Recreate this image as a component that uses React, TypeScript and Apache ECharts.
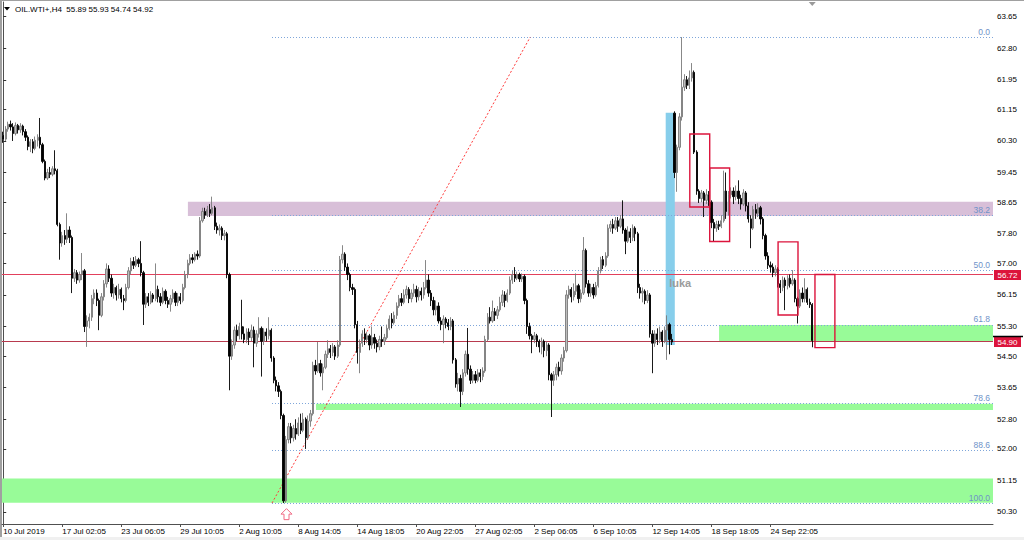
import React, { useEffect, useRef } from "react";
import * as echarts from "echarts";

type Bar = [number, number, number, number]; // open, close, low, high

const symbolName = "OIL.WTI+,H4";

const barsJul10: Bar[] = [
  [60.45,60.35,60.25,60.55],[60.35,60.62,60.30,60.70],[60.62,60.75,60.55,60.82],[60.75,60.68,60.58,60.85],
  [60.68,60.50,60.30,60.78],[60.50,60.72,60.45,60.80],[60.72,60.60,60.50,60.76],[60.60,60.70,60.52,60.78],
  [60.70,60.55,60.45,60.74],[60.55,60.40,60.30,60.62],[60.40,60.15,60.05,60.45],[60.15,60.28,60.00,60.35],
  [60.28,60.10,59.97,60.35],[60.10,60.32,60.05,60.42],[60.32,60.40,60.15,60.48],[60.40,60.20,60.10,60.92],
  [60.20,59.75,59.70,60.25],[59.75,59.30,59.24,59.80],[59.30,59.45,59.25,59.55],[59.45,59.40,59.30,59.60],
  [59.40,59.55,59.35,59.62],[59.55,59.50,59.40,60.05],[59.50,58.05,58.00,59.55],[58.05,57.55,57.10,58.10],
  [57.55,57.75,57.45,57.85],[57.75,57.65,57.50,57.90],[57.65,57.90,57.55,58.35],[57.90,57.70,57.55,58.00],
  [57.70,56.60,56.20,57.75],[56.60,56.75,56.50,56.85],[56.75,56.55,56.45,56.82],[56.55,56.70,56.48,56.78],
  [56.70,56.80,56.55,57.28],[56.80,55.30,55.15,56.85],[55.30,55.45,54.75,55.60],[55.45,55.55,55.25,55.65],
  [55.55,56.05,55.45,56.15],[56.05,56.20,55.90,56.30],[56.20,56.00,55.85,56.30],[56.00,55.60,55.20,56.05],
  [55.60,56.10,55.55,56.20],[56.10,56.45,56.00,56.55],[56.45,56.85,56.35,57.00],[56.85,56.60,56.50,56.95],
  [56.60,56.20,56.10,56.70],[56.20,56.35,56.05,56.45],[56.35,56.15,56.00,56.40],[56.15,56.30,56.05,56.45],
];

const barsJul23: Bar[] = [
  [56.30,56.05,55.95,56.35],[56.05,56.00,55.74,56.15],[56.00,56.35,55.95,56.45],[56.35,56.80,56.30,56.90],
  [56.80,57.05,56.70,57.15],[57.05,56.95,56.85,57.17],[56.95,57.10,56.90,57.20],[57.10,57.00,56.90,57.15],
  [57.00,56.75,56.65,57.60],[56.75,55.90,55.34,56.80],[55.90,56.10,55.80,56.20],[56.10,55.95,55.85,56.20],
  [55.95,56.15,55.90,56.25],[56.15,56.05,55.95,56.20],[56.05,56.30,55.98,57.00],[56.30,56.10,55.95,56.40],
  [56.10,55.95,55.85,56.20],[55.95,56.25,55.90,56.35],[56.25,56.00,55.90,56.30],[56.00,55.90,55.80,56.10],
  [55.90,56.05,55.70,56.15],[56.05,56.20,55.95,56.30],[56.20,55.95,55.85,56.25],[55.95,56.10,55.85,56.20],
  [56.10,56.00,55.90,56.20],[56.00,56.35,55.95,56.45],[56.35,56.70,56.30,56.80],[56.70,57.00,56.60,57.10],
  [57.00,57.15,56.95,57.25],[57.15,57.10,57.00,57.25],[57.10,57.25,57.05,57.30],[57.25,57.20,57.10,57.35],
  [57.20,58.15,57.15,58.25],[58.15,58.40,58.10,58.50],[58.40,58.30,58.20,58.50],[58.30,58.45,58.25,58.55],
  [58.45,58.35,58.25,58.60],[58.35,58.50,58.30,58.80],[58.50,58.00,57.90,58.55],[58.00,57.90,57.80,58.10],
  [57.90,57.95,57.75,58.05],[57.95,57.75,57.63,58.00],[57.75,57.80,57.62,57.90],[57.80,56.70,56.60,57.85],
  [56.70,54.50,53.58,56.75],[54.50,54.80,54.40,54.95],[54.80,55.20,54.70,55.30],[55.20,55.05,54.90,55.35],
];

const barsAug2: Bar[] = [
  [55.05,55.30,54.95,55.40],[55.30,55.10,54.95,56.02],[55.10,54.95,54.85,55.30],[54.95,55.15,54.85,55.25],
  [55.15,55.00,54.80,55.25],[55.00,55.20,54.90,55.35],[55.20,54.85,54.20,55.30],[54.85,55.10,54.75,55.20],
  [55.10,55.25,55.00,55.55],[55.25,54.90,53.95,55.30],[54.90,55.15,54.80,55.25],[55.15,55.05,54.90,55.25],
  [55.05,55.20,54.95,55.55],[55.20,54.45,54.35,55.25],[54.45,53.85,53.77,54.50],[53.85,53.70,53.55,53.95],
  [53.70,53.55,53.40,53.80],[53.55,52.90,52.80,53.60],[52.90,50.60,50.54,52.95],[50.60,52.25,50.55,52.35],
  [52.25,52.60,52.15,52.70],[52.60,52.30,52.15,52.70],[52.30,52.55,52.20,52.65],[52.55,52.40,52.25,52.80],
  [52.40,52.70,52.35,52.85],[52.70,52.50,52.40,52.95],[52.50,52.80,52.45,52.97],[52.80,52.30,52.00,52.85],
  [52.30,52.75,52.25,52.90],[52.75,52.95,52.60,53.05],[52.95,54.25,52.90,54.35],[54.25,54.10,54.00,54.40],
  [54.10,54.30,54.05,54.88],[54.30,54.05,53.95,54.40],[54.05,54.20,53.58,54.30],[54.20,54.55,54.15,54.65],
  [54.55,54.70,54.45,54.93],[54.70,54.60,54.45,54.80],[54.60,54.75,54.50,54.85],[54.75,54.50,54.40,54.80],
  [54.50,54.80,54.45,54.93],[54.80,57.10,54.75,57.20],[57.10,57.25,57.00,57.49],[57.25,56.90,56.80,57.30],
  [56.90,56.70,56.55,57.00],[56.70,56.35,56.25,56.75],[56.35,56.30,56.15,56.45],[56.30,55.35,55.25,56.35],
];

const barsAug14: Bar[] = [
  [55.35,54.60,54.30,55.45],[54.60,54.85,54.04,54.95],[54.85,55.10,54.75,55.20],[55.10,54.95,54.80,55.25],
  [54.95,55.05,54.85,55.15],[55.05,54.80,54.66,55.10],[54.80,55.00,54.70,55.30],[55.00,54.85,54.70,55.10],
  [54.85,54.75,54.60,54.95],[54.75,54.95,54.66,55.05],[54.95,54.90,54.75,55.30],[54.90,55.00,54.80,55.10],
  [55.00,55.25,54.95,55.35],[55.25,55.50,55.20,55.60],[55.50,55.40,55.25,55.66],[55.40,55.60,55.35,55.70],
  [55.60,55.85,55.50,55.95],[55.85,56.05,55.80,56.15],[56.05,55.95,55.85,56.20],[55.95,56.15,55.90,56.30],
  [56.15,56.30,56.05,56.40],[56.30,56.05,55.93,56.36],[56.05,56.20,55.95,56.30],[56.20,56.30,56.10,56.45],
  [56.30,56.10,55.95,56.40],[56.10,56.25,56.00,56.36],[56.25,56.15,56.00,56.35],[56.15,56.35,56.05,56.50],
  [56.35,56.55,56.30,57.09],[56.55,56.20,56.10,56.70],[56.20,56.00,55.85,56.28],[56.00,55.75,55.60,56.10],
  [55.75,55.85,55.60,56.00],[55.85,55.45,55.38,55.95],[55.45,55.35,55.20,55.55],[55.35,55.50,54.85,55.60],
  [55.50,55.40,55.25,55.55],[55.40,55.30,55.20,55.50],[55.30,55.45,55.20,55.55],[55.45,54.40,54.30,55.50],
  [54.40,53.75,53.65,54.45],[53.75,53.90,53.55,54.05],[53.90,53.55,53.13,54.00],[53.55,54.05,53.45,54.15],
  [54.05,54.55,53.95,54.65],[54.55,54.15,54.00,55.26],[54.15,53.85,53.75,54.25],[53.85,54.00,53.77,54.10],
];

const barsAug27: Bar[] = [
  [54.00,53.85,53.77,54.10],[53.85,54.05,53.80,54.15],[54.05,53.95,53.80,54.15],[53.95,54.10,53.85,54.20],
  [54.10,54.95,54.05,55.05],[54.95,55.55,54.90,55.66],[55.55,55.45,55.38,55.82],[55.45,55.70,55.40,56.00],
  [55.70,55.60,55.45,55.80],[55.60,55.75,55.50,55.85],[55.75,55.95,55.70,56.10],[55.95,56.15,55.85,56.28],
  [56.15,56.00,55.82,56.25],[56.00,56.20,55.95,56.30],[56.20,56.55,56.15,56.65],[56.55,56.70,56.45,56.80],
  [56.70,56.60,56.50,56.90],[56.60,56.70,56.55,56.78],[56.70,56.58,56.50,56.75],[56.58,56.65,56.50,56.73],
  [56.65,56.00,55.90,56.70],[56.00,55.30,55.10,56.05],[55.30,55.05,54.95,55.40],[55.05,54.95,54.58,55.10],
  [54.95,55.05,54.85,55.15],[55.05,54.90,54.75,55.10],[54.90,54.75,54.60,54.95],[54.75,54.90,54.55,55.00],
  [54.90,54.65,54.47,54.95],[54.65,54.80,54.50,54.90],[54.80,54.00,53.85,54.85],[54.00,53.85,52.86,54.05],
  [53.85,54.00,53.70,54.10],[54.00,54.20,53.85,54.30],[54.20,54.10,53.95,54.35],[54.10,54.45,54.00,54.55],
  [54.45,54.65,54.35,54.75],[54.65,56.15,54.60,56.28],[56.15,56.30,56.05,56.40],[56.30,56.10,55.95,56.36],
  [56.10,56.25,56.00,56.46],[56.25,56.40,56.15,56.73],[56.40,56.05,55.93,56.45],[56.05,56.20,55.95,56.30],
  [56.20,57.35,56.15,57.71],[57.35,56.45,56.35,57.40],[56.45,56.20,56.10,56.55],[56.20,56.35,56.10,56.45],
];

const barsSep6: Bar[] = [
  [56.35,56.15,56.05,56.45],[56.15,56.40,56.10,56.50],[56.40,56.80,56.35,56.90],[56.80,57.10,56.73,57.18],
  [57.10,56.95,56.85,57.20],[56.95,57.20,56.90,57.30],[57.20,57.95,57.15,58.05],[57.95,58.05,57.85,58.15],
  [58.05,57.95,57.80,58.20],[57.95,58.15,57.90,58.25],[58.15,58.00,57.85,58.25],[58.00,58.20,57.95,58.30],
  [58.20,57.90,57.80,58.70],[57.90,57.60,57.25,57.95],[57.60,57.85,57.55,58.00],[57.85,57.70,57.55,57.95],
  [57.70,57.95,57.60,58.05],[57.95,57.80,57.60,58.00],[57.80,56.35,56.20,57.85],[56.35,56.20,56.05,56.45],
  [56.20,56.25,55.95,56.35],[56.25,56.00,55.90,56.30],[56.00,56.15,55.93,56.28],[56.15,55.10,55.00,56.20],
  [55.10,54.85,54.04,55.20],[54.85,55.10,54.75,55.20],[55.10,54.95,54.80,55.25],[54.95,55.15,54.85,55.30],
  [55.15,54.90,54.75,55.20],[54.90,55.20,54.85,55.30],[55.20,55.35,54.40,55.60],[55.35,54.95,54.55,55.40],
  [54.95,54.88,54.80,55.10],[61.05,59.45,59.30,61.10],[59.45,60.13,58.93,60.20],[60.13,60.95,60.05,61.05],
  [60.95,61.75,60.85,63.10],[61.75,61.95,61.65,62.10],[61.95,61.80,61.70,62.05],[61.80,62.00,61.70,62.20],
  [62.00,62.15,61.90,62.40],[62.15,60.00,59.95,62.20],[60.00,58.95,58.85,60.05],[58.95,58.75,58.63,59.00],
  [58.75,58.90,58.65,58.98],[58.90,58.70,58.25,58.95],[58.70,58.85,58.60,59.00],[58.85,58.65,58.55,58.95],
];

const barsSep18: Bar[] = [
  [58.65,58.10,57.95,58.70],[58.10,57.95,57.58,58.20],[57.95,58.05,57.85,58.15],[58.05,58.00,57.90,58.15],
  [58.00,58.15,57.95,58.30],[58.15,58.95,58.10,59.50],[58.95,58.40,58.20,59.45],[58.40,58.85,58.30,58.95],
  [58.85,58.95,58.75,59.05],[58.95,58.80,58.60,59.05],[58.80,58.95,58.70,59.10],[58.95,58.75,58.60,59.24],
  [58.75,58.60,58.45,58.85],[58.60,58.90,58.55,59.00],[58.90,58.55,58.40,58.95],[58.55,58.20,58.10,58.65],
  [58.20,57.95,57.41,58.30],[57.95,58.45,57.90,58.55],[58.45,58.35,58.20,58.60],[58.35,58.50,58.25,58.62],
  [58.50,58.20,58.05,58.55],[58.20,57.75,57.65,58.25],[57.75,57.20,57.10,57.80],[57.20,56.95,56.85,57.30],
  [56.95,56.90,56.75,57.05],[56.90,56.75,56.63,57.00],[56.75,56.85,56.65,56.95],[56.85,56.45,56.35,56.90],
  [56.45,56.35,56.20,56.55],[56.35,56.55,56.25,56.65],[56.55,56.40,55.74,56.62],[56.40,56.60,56.30,56.68],
  [56.60,56.45,56.35,56.70],[56.45,56.55,56.40,56.82],[56.55,56.05,55.95,56.60],[56.05,55.85,55.38,56.10],
  [55.85,56.20,55.80,56.30],[56.20,56.05,55.95,56.35],[56.05,56.30,55.95,56.60],[56.30,55.95,55.88,56.35],
  [55.95,55.89,55.80,56.05],[55.89,54.92,54.74,55.93],
];

const bars: Bar[] = [
  ...barsJul10, ...barsJul23, ...barsAug2, ...barsAug14, ...barsAug27, ...barsSep6, ...barsSep18,
];

const slotCount = 403; // bars + empty right shift
const labelStep = 24;
const timeLabels = [
  "10 Jul 2019", "17 Jul 02:05", "23 Jul 06:05", "29 Jul 10:05", "2 Aug 10:05", "8 Aug 14:05",
  "14 Aug 18:05", "20 Aug 22:05", "27 Aug 02:05", "2 Sep 06:05", "6 Sep 10:05", "12 Sep 14:05",
  "18 Sep 18:05", "24 Sep 22:05",
];
const priceTicks = [
  63.65, 62.80, 61.95, 61.15, 60.30, 59.45, 58.65, 57.80, 57.00, 56.15, 55.30, 54.50, 53.65, 52.80,
  52.00, 51.15, 50.30,
];
const yMin = 49.976;
const yMax = 64.046;

const levelPrices = [56.72, 54.90];
const fibLevels = [63.10, 58.30, 56.82, 55.34, 53.23, 51.97, 50.54];
const fibLabels = ["0.0", "38.2", "50.0", "61.8", "78.6", "88.6", "100.0"];
const fibStartIndex = 109.3;
const trendIndex = [109.3, 214.3];
const trendPrice = [50.54, 63.10];

const bandStart = [75.1, -0.5, 127.2, 291.1];
const bandLow = [58.28, 50.55, 53.05, 54.90];
const bandHigh = [58.66, 51.20, 53.22, 55.34];
const gapIndex = [269.4, 273.1];
const gapPrice = [54.80, 61.06];

const boxStart = [279.2, 287.3, 315.1, 330.1];
const boxEnd = [287.3, 295.4, 323.2, 338.2];
const boxLow = [58.52, 57.59, 55.61, 54.73];
const boxHigh = [60.49, 59.57, 57.58, 56.70];

const noteText = "luka";
const notePoint = [270.8, 56.48];
const arrowPoint = [115.2, 50.39];

const FONT = '"Liberation Sans", Arial, sans-serif';
const bandColors = ["#d8bfd8", "#98fb98", "#98fb98", "#98fb98"];

const crisp = (v: number) => Math.round(v) + 0.5;

function renderBackground(params: any, api: any) {
  const cs = params.coordSys;
  const right = cs.x + cs.width;
  const P = (i: number, p: number) => api.coord([i, p]);
  const children: any[] = [];
  bandStart.forEach((s, k) => {
    const [x0, y0] = P(s, bandHigh[k]);
    const [, y1] = P(s, bandLow[k]);
    children.push({ type: "rect", shape: { x: x0, y: y0, width: right - x0, height: y1 - y0 }, style: { fill: bandColors[k] } });
  });
  {
    const [x0, y0] = P(gapIndex[0], gapPrice[1]);
    const [x1, y1] = P(gapIndex[1], gapPrice[0]);
    children.push({ type: "rect", shape: { x: x0, y: y0, width: x1 - x0, height: y1 - y0 }, style: { fill: "#87ceeb" } });
  }
  fibLevels.forEach((lv) => {
    const [x0, y] = P(fibStartIndex, lv);
    const yy = crisp(y);
    children.push({ type: "line", shape: { x1: x0, y1: yy, x2: right, y2: yy }, style: { stroke: "#7fa6da", lineWidth: 1, lineDash: [1, 2] } });
  });
  levelPrices.forEach((lv, k) => {
    const [, y] = P(0, lv);
    const yy = crisp(y);
    children.push({ type: "line", shape: { x1: cs.x, y1: yy, x2: right, y2: yy }, style: { stroke: k === 0 ? "#e2405c" : "#b83a4e", lineWidth: 1 } });
  });
  {
    const [x0, y0] = P(trendIndex[0], trendPrice[0]);
    const [x1, y1] = P(trendIndex[1], trendPrice[1]);
    children.push({ type: "line", shape: { x1: x0, y1: y0, x2: x1, y2: y1 }, style: { stroke: "#ff3b3b", lineWidth: 1, lineDash: [2, 2] } });
  }
  return { type: "group", children };
}

function renderForeground(params: any, api: any) {
  const cs = params.coordSys;
  const right = cs.x + cs.width;
  const P = (i: number, p: number) => api.coord([i, p]);
  const children: any[] = [];
  boxStart.forEach((s, k) => {
    const [x0, y0] = P(s, boxHigh[k]);
    const [x1, y1] = P(boxEnd[k], boxLow[k]);
    children.push({ type: "rect", shape: { x: x0, y: y0, width: x1 - x0, height: y1 - y0 }, style: { fill: "none", stroke: "#dc143c", lineWidth: 1.4 } });
  });
  {
    const [x, y] = P(notePoint[0], notePoint[1]);
    children.push({ type: "text", x, y, style: { text: noteText, fill: "#9c9c9c", font: `bold 11px ${FONT}`, align: "left", verticalAlign: "middle" } });
  }
  {
    const [tx, ty] = P(arrowPoint[0], arrowPoint[1]);
    const pts = [[tx, ty], [tx + 5.5, ty + 5.5], [tx + 2.5, ty + 5.5], [tx + 2.5, ty + 11], [tx - 2.5, ty + 11], [tx - 2.5, ty + 5.5], [tx - 5.5, ty + 5.5]];
    children.push({ type: "polygon", shape: { points: pts }, style: { fill: "none", stroke: "#f06a84", lineWidth: 1 } });
  }
  fibLevels.forEach((lv, k) => {
    const [, y] = P(0, lv);
    children.push({ type: "text", x: right - 3, y: y - 1, style: { text: fibLabels[k], fill: "#6f93c9", font: `8.5px ${FONT}`, align: "right", verticalAlign: "bottom" } });
  });
  return { type: "group", children };
}

function renderTags(params: any, api: any) {
  const cs = params.coordSys;
  const right = cs.x + cs.width;
  const children: any[] = [];
  levelPrices.forEach((lv, k) => {
    const [, y] = api.coord([0, lv]);
    const top = Math.round(y) - 4;
    children.push({ type: "rect", shape: { x: right + 1, y: top, width: 27, height: 10 }, style: { fill: "#dc143c" } });
    children.push({ type: "text", x: right + 14.5, y: top + 5, style: { text: lv.toFixed(2), fill: "#fff", font: `8px ${FONT}`, align: "center", verticalAlign: "middle" } });
    if (k === 1) {
      children.push({ type: "line", shape: { x1: right, y1: top - 0.5, x2: right + 30, y2: top - 0.5 }, style: { stroke: "#000", lineWidth: 1.5 } });
    }
  });
  const [mx] = api.coord([bars.length - 1, yMax]);
  children.push({ type: "polygon", shape: { points: [[mx - 3.5, cs.y], [mx + 3.5, cs.y], [mx, cs.y + 4]] }, style: { fill: "#9a9a9a" } });
  return { type: "group", children };
}

export default function App() {
  const ref = useRef<HTMLDivElement>(null);
  useEffect(() => {
    if (!ref.current) return;
    const chart = echarts.init(ref.current, undefined, { renderer: "svg" });
    const categories = Array.from({ length: slotCount }, (_, i) => String(i));
    const isLabel = (index: number) => index % labelStep === 0 && index / labelStep < timeLabels.length;
    const last = bars[bars.length - 1];
    const header = `${symbolName}\u00a0\u00a0${last[0].toFixed(2)} ${last[3].toFixed(2)} ${last[2].toFixed(2)} ${last[1].toFixed(2)}`;
    const option: any = {
      animation: false,
      backgroundColor: "#ffffff",
      grid: { left: 2, right: 31, top: 2, bottom: 16, containLabel: false, outerBoundsMode: "none" },
      xAxis: [
        {
          type: "category",
          data: categories,
          boundaryGap: true,
          axisLine: { show: true, lineStyle: { color: "#505050", width: 1 } },
          axisTick: { show: true, alignWithLabel: true, interval: (i: number) => isLabel(i), length: 3, lineStyle: { color: "#505050" } },
          axisLabel: {
            show: true,
            interval: (i: number) => isLabel(i),
            formatter: (_v: string, i: number) => timeLabels[i / labelStep] ?? "",
            align: "left",
            margin: 3,
            color: "#000",
            fontSize: 8,
            fontFamily: FONT,
          },
          splitLine: { show: false },
        },
        { type: "value", min: -0.5, max: slotCount - 0.5, show: false },
      ],
      yAxis: [
        {
          type: "value",
          position: "right",
          min: yMin,
          max: yMax,
          scale: true,
          axisLine: { show: true, lineStyle: { color: "#505050", width: 1 } },
          axisTick: { show: true, customValues: priceTicks, length: 3, lineStyle: { color: "#333" } },
          axisLabel: {
            show: true,
            customValues: priceTicks,
            formatter: (v: number) => v.toFixed(2),
            margin: 4,
            color: "#000",
            fontSize: 8,
            fontFamily: FONT,
          },
          splitLine: { show: false },
        },
      ],
      graphic: [
        { type: "rect", shape: { x: 0, y: 537, width: 1024, height: 3 }, style: { fill: "#f0f0f0" } },
        { type: "line", shape: { x1: 0, y1: 0.5, x2: 1024, y2: 0.5 }, style: { stroke: "#a0a0a0", lineWidth: 1 } },
        { type: "line", shape: { x1: 1, y1: 0, x2: 1, y2: 537 }, style: { stroke: "#a0a0a0", lineWidth: 2 } },
        { type: "polygon", shape: { points: [[4, 7], [10, 7], [7, 10.5]] }, style: { fill: "#000" } },
        { type: "text", x: 15, y: 9, style: { text: header, fill: "#000", font: `8px ${FONT}`, verticalAlign: "middle" } },
      ],
      series: [
        {
          type: "custom",
          xAxisIndex: 1,
          yAxisIndex: 0,
          data: [[200, 57]],
          renderItem: renderBackground,
          clip: true,
          silent: true,
          z: 1,
        },
        {
          type: "candlestick",
          xAxisIndex: 0,
          yAxisIndex: 0,
          data: bars,
          barWidth: 1.8,
          z: 3,
          itemStyle: {
            color: "#bdbdbd",
            color0: "#000000",
            borderColor: "#7a7a7a",
            borderColor0: "#000000",
            borderWidth: 0.9,
          },
        },
        {
          type: "custom",
          xAxisIndex: 1,
          yAxisIndex: 0,
          data: [[200, 57]],
          renderItem: renderForeground,
          clip: true,
          silent: true,
          z: 4,
        },
        {
          type: "custom",
          xAxisIndex: 1,
          yAxisIndex: 0,
          data: [[200, 57]],
          renderItem: renderTags,
          clip: false,
          silent: true,
          z: 5,
        },
      ],
    };
    chart.setOption(option);
    return () => chart.dispose();
  }, []);
  return (
    <div
      ref={ref}
      style={{ position: "fixed", left: 0, top: 0, width: 1024, height: 540, background: "#fff" }}
    />
  );
}
